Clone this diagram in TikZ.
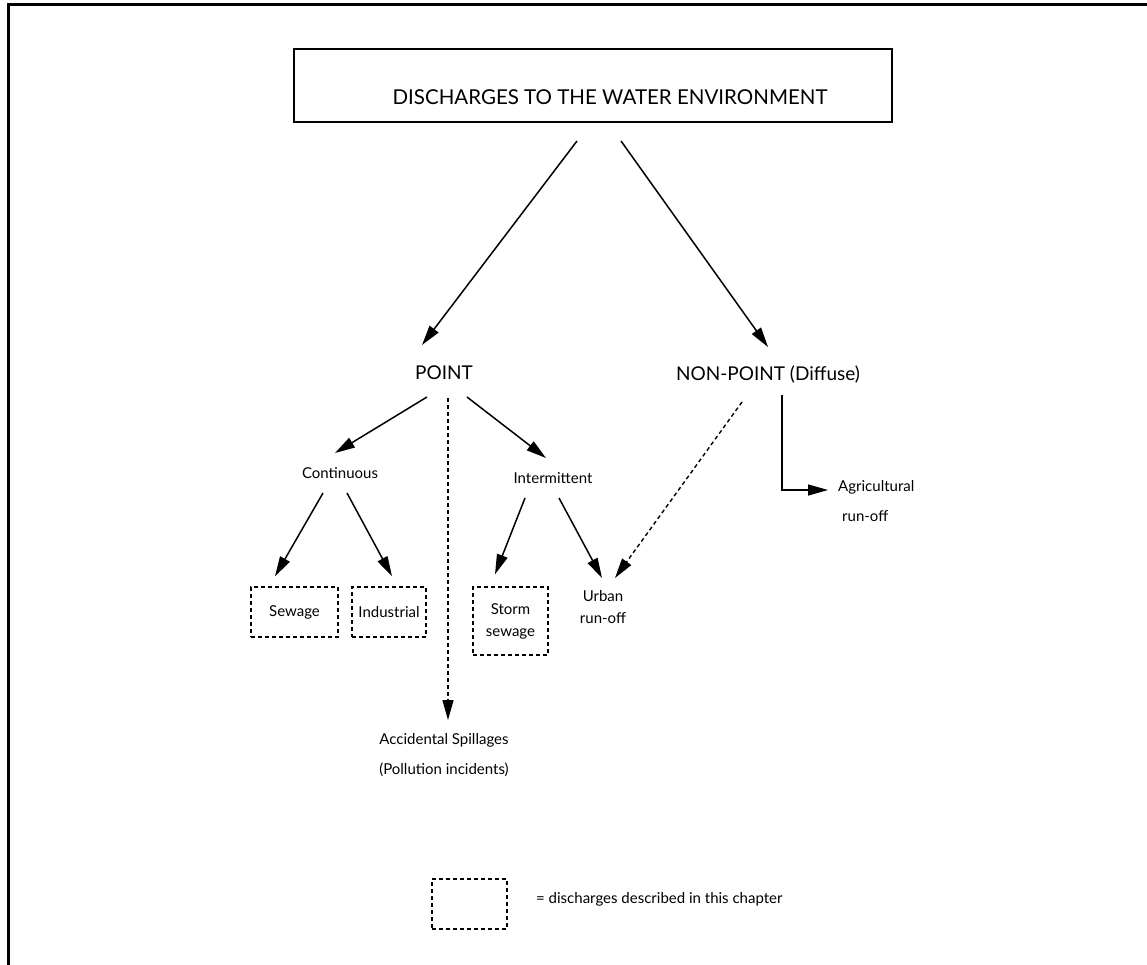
\documentclass[tikz,border=0pt]{standalone}
\usepackage{fontspec}
\setmainfont{Lato}
\usetikzlibrary{arrows.meta,calc}
\newcommand\lblfont{\fontsize{15}{22}\selectfont}
\newcommand\widefont{\fontsize{15}{30}\selectfont}
\newcommand\bigfont{\fontsize{19}{22}\selectfont}
\newcommand\titlefont{\fontsize{20.5}{24}\selectfont}
\begin{document}
\begin{tikzpicture}[x=1pt,y=-1pt,
  arr/.style={line width=1.5pt,-{Triangle[length=20pt,width=11pt]}},
  darr/.style={line width=1.4pt,dash pattern=on 4pt off 3pt,-{Triangle[length=20pt,width=11pt]}},
  dbox/.style={draw,line width=1.4pt,dash pattern=on 4pt off 3pt,inner sep=0pt,align=center,font=\lblfont},
  big/.style={font=\bigfont,inner sep=0pt},
  lbl/.style={font=\lblfont,inner sep=0pt,align=center},
  wlbl/.style={font=\widefont,inner sep=0pt}]
\useasboundingbox (0,0) rectangle (1147,965);
% page frame
\draw[line width=3pt] (8,965) -- (8,5) -- (1147,5);
% title
\node[draw,line width=2pt,minimum width=598pt,minimum height=73pt,inner sep=0pt] (titlebox) at (593,85.5) {};
\node[font=\titlefont,inner sep=0pt] (title) at (610,97) {DISCHARGES TO THE WATER ENVIRONMENT};
% level 2
\node[big] (point) at (444,373) {POINT};
\node[big] (nonpoint) at (768,375) {NON-POINT (Diffuse)};
% level 3
\node[lbl] (cont) at (340,473) {Continuous};
\node[lbl] (inter) at (553,478) {Intermittent};
% leaves
\node[dbox,minimum width=87pt,minimum height=50pt] (sewage) at (294.5,612) {Sewage};
\node[dbox,minimum width=74pt,minimum height=50pt] (industrial) at (389,612) {Industrial};
\node[dbox,minimum width=75pt,minimum height=68pt] (storm) at (510.5,621) {Storm\\sewage};
\node[lbl,anchor=north] (urban) at (603,590) {Urban\\run-off};
\node[wlbl,anchor=north west,align=left] (agri) at (838,480) {Agricultural\\\hspace{4pt}run-off};
\node[wlbl,anchor=north,align=center] (acc) at (444,733) {Accidental Spillages\\(Pollution incidents)};
% legend
\node[dbox,minimum width=75pt,minimum height=50pt] (legbox) at (469.5,904) {};
\node[lbl,anchor=west] (legtext) at (536,899) {= discharges described in this chapter};
% connectors
\draw[arr] ($(titlebox.south)+(-16,18)$) -- ($(point)+(-22,-28)$);
\draw[arr] ($(titlebox.south)+(28,18)$) -- ($(nonpoint)+(0,-28)$);
\draw[arr] ($(point)+(-17,24)$) -- ($(cont)+(-5,-20)$);
\draw[arr] ($(point)+(23,24)$) -- ($(inter)+(-7,-20)$);
\draw[darr] ($(point)+(4,25)$) -- ($(acc.north)+(4,-13)$);
\draw[arr] ($(cont)+(-17,20)$) -- ($(sewage.north)+(-19.5,-10)$);
\draw[arr] ($(cont)+(7,20)$) -- ($(industrial.north)+(3,-10)$);
\draw[arr] ($(inter)+(-28,20)$) -- ($(storm.north)+(-15.5,-12)$);
\draw[arr] ($(inter)+(6,20)$) -- ($(urban.north)+(-1,-12)$);
\draw[darr] ($(nonpoint)+(-26,27)$) -- ($(urban.north)+(12,-12)$);
\draw[arr] ($(nonpoint)+(14,20)$) |- ($(agri.north west)+(-10,10)$);
\end{tikzpicture}
\end{document}
